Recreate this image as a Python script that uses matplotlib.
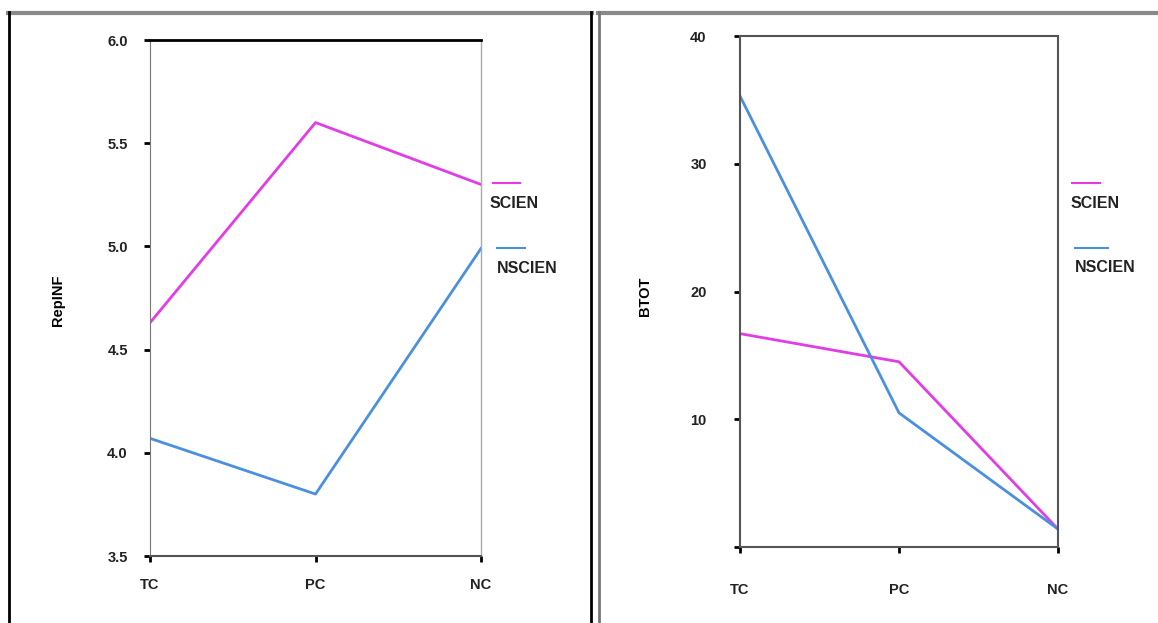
import matplotlib.pyplot as plt
from matplotlib.lines import Line2D

# 数据
groups = ['TC', 'PC', 'NC']
series = ['SCIEN', 'NSCIEN']
colors = ['#e23ce6', '#4a8fe0']
rep_inf = {'SCIEN': [4.63, 5.60, 5.30], 'NSCIEN': [4.07, 3.80, 4.99]}
btot = {'SCIEN': [16.7, 14.5, 1.4], 'NSCIEN': [35.3, 10.5, 1.4]}
left_yticks = [3.5, 4.0, 4.5, 5.0, 5.5, 6.0]
right_yticks = [0, 10, 20, 30, 40]
right_ylabels = ['', '10', '20', '30', '40']

W, H = 1158, 623
fig = plt.figure(figsize=(W / 100, H / 100), dpi=100)
font = {'family': 'Liberation Sans', 'size': 10.5, 'weight': 'bold', 'color': '#222222'}


def fx(px):
    return px / W


def fy(py):
    return 1 - py / H


ax1 = fig.add_axes([fx(150), fy(556), fx(331), fy(40) - fy(556)])
ax2 = fig.add_axes([fx(740), fy(547), fx(318), fy(36) - fy(547)])

for ax, data in [(ax1, rep_inf), (ax2, btot)]:
    for name, c in zip(series, colors):
        ax.plot(range(len(groups)), data[name], color=c, lw=2)
    ax.set_xlim(0, len(groups) - 1)
    ax.set_xticks(range(len(groups)))
    ax.set_xticklabels(groups, **font)
    ax.tick_params(direction='out', length=4, width=2, color='black')

# 左图
ax1.set_ylim(3.5, 6.0)
ax1.set_yticks(left_yticks)
ax1.set_yticklabels(['{:.1f}'.format(v) for v in left_yticks], **font)
ax1.tick_params(axis='y', pad=12)
ax1.tick_params(axis='x', pad=12)
ax1.spines['top'].set_color('black')
ax1.spines['top'].set_linewidth(2)
ax1.spines['left'].set_color('#777777')
ax1.spines['right'].set_color('#aaaaaa')
ax1.spines['right'].set_linewidth(1)
ax1.spines['bottom'].set_color('#555555')
ax1.spines['bottom'].set_linewidth(1.5)

# 右图
ax2.set_ylim(0, 40)
ax2.set_yticks(right_yticks)
ax2.set_yticklabels(right_ylabels, **font)
ax2.tick_params(axis='y', pad=20)
ax2.tick_params(axis='x', pad=22)
for s in ['top', 'left', 'right', 'bottom']:
    ax2.spines[s].set_color('#555555')
    ax2.spines[s].set_linewidth(1.5)

# 图例
legend_pos = [
    (ax1, [(1.036, 1.118, 0.723, 1.027, 0.684), (1.048, 1.133, 0.597, 1.048, 0.558)]),
    (ax2, [(1.044, 1.132, 0.712, 1.038, 0.673), (1.053, 1.157, 0.585, 1.053, 0.546)]),
]
for ax, pos in legend_pos:
    for name, c, (x0, x1, yl, xt, yt) in zip(series, colors, pos):
        ax.add_line(Line2D([x0, x1], [yl, yl], color=c, lw=1.5,
                           transform=ax.transAxes, clip_on=False))
        ax.text(xt, yt, name, transform=ax.transAxes, ha='left', va='center',
                family='Liberation Sans', fontsize=11.5, fontweight='bold',
                color='#222222')

fig.text(fx(58), fy(300), 'RepINF', rotation=90, ha='center', va='center',
         family='Liberation Sans', fontsize=10.5, fontweight='bold')
fig.text(fx(645), fy(296), 'BTOT', rotation=90, ha='center', va='center',
         family='Liberation Sans', fontsize=10.5, fontweight='bold')

# 面板边框
fig.add_artist(Line2D([fx(8), fx(592)], [fy(13), fy(13)], color='#8a8a8a', lw=3))
fig.add_artist(Line2D([fx(598), fx(1158)], [fy(13), fy(13)], color='#8a8a8a', lw=3))
fig.add_artist(Line2D([fx(9), fx(9)], [fy(12), fy(623)], color='black', lw=2))
fig.add_artist(Line2D([fx(591), fx(591)], [fy(12), fy(623)], color='black', lw=2))
fig.add_artist(Line2D([fx(599), fx(599)], [fy(12), fy(623)], color='#777777', lw=2))

plt.savefig('out.png', dpi=100)
